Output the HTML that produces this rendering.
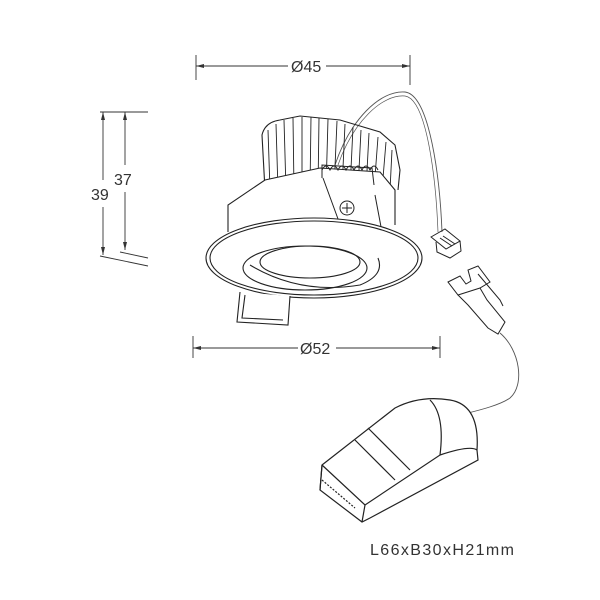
<!DOCTYPE html>
<html><head><style>
body{margin:0;background:#fff}
svg{display:block}
text{font-family:"Liberation Sans",sans-serif;fill:#333;stroke:none}
</style></head><body>
<svg width="600" height="600" viewBox="0 0 600 600" fill="none" stroke="#222" stroke-width="1.1">
<g stroke="#333" stroke-width="0.9">
<line x1="196" y1="55" x2="196" y2="80"/><line x1="410" y1="55" x2="410" y2="85"/>
<line x1="196" y1="66" x2="288" y2="66"/><line x1="326" y1="66" x2="410" y2="66"/>
<line x1="193" y1="336" x2="193" y2="358"/><line x1="440" y1="336" x2="440" y2="358"/>
<line x1="193" y1="348" x2="298" y2="348"/><line x1="336" y1="348" x2="440" y2="348"/>
<line x1="100" y1="112" x2="148" y2="112"/>
<line x1="103" y1="112" x2="103" y2="180"/><line x1="103" y1="207" x2="103" y2="255"/>
<line x1="125" y1="112" x2="125" y2="165"/><line x1="125" y1="192" x2="125" y2="250"/>
<line x1="100" y1="256" x2="148" y2="266"/><line x1="120" y1="252" x2="148" y2="258"/>
</g>
<g fill="#333" stroke="none">
<path d="M196 66l8-2v4z"/><path d="M410 66l-8-2v4z"/>
<path d="M193 348l8-2v4z"/><path d="M440 348l-8-2v4z"/>
<path d="M103 112l-2 8h4z"/><path d="M103 255l-2-8h4z"/>
<path d="M125 112l-2 8h4z"/><path d="M125 250l-2-8h4z"/>
</g>
<text x="291" y="72" font-size="16">Ø45</text>
<text x="300" y="354" font-size="16">Ø52</text>
<text x="91" y="200" font-size="16">39</text>
<text x="114" y="185" font-size="16">37</text>
<text x="370" y="555" font-size="16" letter-spacing="1.4">L66xB30xH21mm</text>
<path d="M335 165 C350 120 380 90 405 92 C430 95 440 180 442 232" stroke="#555" stroke-width="0.9"/>
<path d="M338 165 C353 122 382 94 405 96 C427 99 436 180 438 232" stroke="#555" stroke-width="0.7"/>
<path d="M500 333 C520 350 525 385 510 398 C500 405 480 410 468 413" stroke="#555" stroke-width="0.9"/>
<path d="M265 190 L262 135 Q265 122 280 120 L290 118 L300 116 L320 118 L340 120 L360 126 L380 132 L395 145 L400 170 L398 190"/>
<g stroke-width="0.9">
<path d="M270 190 L268 130 M278 190 L276 124 M286 190 L284 120 M294 190 L293 118 M302 190 L302 117 M310 190 L311 117 M318 190 L319 118 M326 190 L328 119 M334 190 L337 121 M342 190 L345 124 M350 190 L353 127 M358 190 L361 130 M366 190 L369 133 M374 190 L378 137 M382 190 L386 142 M390 190 L392 150"/>
</g>
<path d="M228 232 L228 205 L265 180 L320 168 L380 172 L395 190 L395 225" fill="#fff"/>
<g stroke-width="1">
<path d="M322 170 q4 -8 8 0 q4 -8 8 0 q4 -8 8 0 q4 -8 8 0 q4 -8 8 0 q4 -8 8 0 q4 -8 8 0" />
<path d="M322 178 L322 165 L372 168 L374 185"/>
<path d="M323 178 L345 238 L385 248 L375 195"/>
<circle cx="347" cy="208" r="7"/><path d="M342 208h10M347 203v10"/>
</g>
<ellipse cx="314" cy="258" rx="108" ry="40" fill="#fff"/>
<ellipse cx="314" cy="258" rx="104" ry="37"/>
<ellipse cx="305" cy="268" rx="62" ry="22"/>
<ellipse cx="310" cy="262" rx="50" ry="16"/>
<path d="M250 265 Q300 295 360 285 Q385 275 378 258"/>
<path d="M240 292 L237 322 L288 325 L290 296" fill="#fff"/>
<path d="M245 295 L242 318 L283 320"/>
<g stroke-width="1">
<path d="M431 237 L445 229 L460 241 L446 249 Z"/>
<path d="M436 242 L437 252 L450 258 L461 251 L460 241"/>
<path d="M440 238 L452 246 M443 236 L455 244"/>
<path d="M448 282 L460 276 L466 284 L471 281 L468 270 L478 266 L490 282 L480 288 L458 295 Z"/>
<path d="M480 288 L487 300 L505 322 L498 334 L488 328 L468 305 L458 295"/>
<path d="M478 274 L500 300 L503 306"/>
</g>
<g stroke-width="1.2">
<path d="M322 465 L395 408 Q420 395 450 400 Q480 405 477 450 L478 460 L370 518 L362 522 L320 490 Z" fill="#fff"/>
<path d="M322 465 L365 505 L440 455 Q470 445 477 450"/>
<path d="M365 505 L362 522"/>
<path d="M430 400 Q445 415 440 455"/>
<path d="M368 428 L410 470 M355 440 L395 480"/>
<path d="M320 490 L322 465"/>
<path d="M322 480 L355 508" stroke-dasharray="2 1.5"/>
</g>
</svg>
</body></html>
